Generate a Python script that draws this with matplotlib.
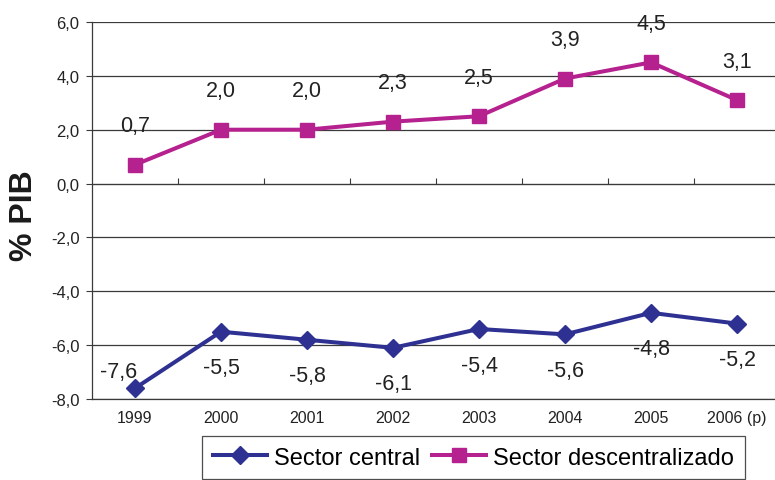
import matplotlib
matplotlib.use("Agg")
import matplotlib.pyplot as plt

plt.rcParams['font.family'] = ['Liberation Sans', 'DejaVu Sans']

years = ["1999", "2000", "2001", "2002", "2003", "2004", "2005", "2006 (p)"]
central = [-7.6, -5.5, -5.8, -6.1, -5.4, -5.6, -4.8, -5.2]
descentralizado = [0.7, 2.0, 2.0, 2.3, 2.5, 3.9, 4.5, 3.1]
yticks = [-8.0, -6.0, -4.0, -2.0, 0.0, 2.0, 4.0, 6.0]

BLUE = "#2E3192"
PINK = "#B5218E"
GRID = "#3a3a3a"
TEXT = "#222222"

fig = plt.figure(figsize=(7.75, 4.81), dpi=100)
ax = fig.add_axes([92 / 775, 1 - 400 / 481, 1 - 92 / 775, (400 - 23) / 481])

x = list(range(len(years)))
ax.plot(x, central, color=BLUE, lw=2.9, marker="D", ms=9,
        label="Sector central", zorder=3)
ax.plot(x, descentralizado, color=PINK, lw=2.9, marker="s", ms=9.5,
        label="Sector descentralizado", zorder=3)

def fmt(v):
    return f"{v:.1f}".replace(".", ",")

for i, v in enumerate(descentralizado):
    ax.annotate(fmt(v), (i, v), xytext=(0, 28), textcoords="offset points",
                ha="center", va="center", fontsize=15.5, color=TEXT)
for i, v in enumerate(central):
    off = (-12, 12) if i == 0 else (0, -26)
    ax.annotate(fmt(v), (i, v), xytext=off, textcoords="offset points",
                ha="center", va="center", fontsize=15.5, color=TEXT)

ax.set_ylim(-8, 6)
ax.set_xlim(-0.5, 7 + 38 / 86)
ax.set_yticks(yticks)
ax.set_yticklabels([fmt(t) for t in yticks], fontsize=12, color=TEXT)
ax.set_xticks(x)
ax.set_xticklabels(years, fontsize=11.5, color=TEXT)
ax.tick_params(axis="x", length=0, pad=8)
ax.tick_params(axis="y", length=4, width=0.8, color=GRID, pad=5)

ax.grid(axis="y", color=GRID, lw=0.9)
ax.set_axisbelow(True)
for s in ("top", "right"):
    ax.spines[s].set_visible(False)
for s in ("left", "bottom"):
    ax.spines[s].set_color(GRID)
    ax.spines[s].set_linewidth(0.9)

# small category separators on the zero line
sec = ax.secondary_xaxis(8 / 14)
sec.set_xticks([i + 0.5 for i in range(len(years) - 1)])
sec.set_xticklabels([])
sec.tick_params(length=4, width=0.8, color=GRID, direction="out")
sec.spines["bottom"].set_visible(False)

fig.text(24 / 775, 1 - 216 / 481, "% PIB", rotation=90, fontsize=23,
         fontweight="bold", ha="center", va="center", color="#1a1a1a")

leg = fig.legend(loc="upper left", bbox_to_anchor=(202 / 775, 1 - 437 / 481),
                 ncol=2, fontsize=17, frameon=True, fancybox=False,
                 handlelength=2.3, columnspacing=0.5, handletextpad=0.3,
                 borderpad=0.45, borderaxespad=0)
leg.get_frame().set_edgecolor(TEXT)
leg.get_frame().set_linewidth(0.9)

fig.savefig("out.png", dpi=100)
